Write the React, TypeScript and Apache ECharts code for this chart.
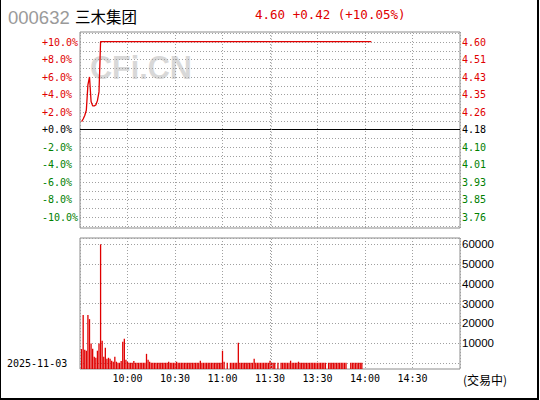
import React, { useEffect, useRef } from "react";
import * as echarts from "echarts";

const stockCode = "000632";
const stockName = "三木集团";
const quoteText = "4.60 +0.42 (+10.05%)";
const tradeDate = "2025-11-03";
const statusText = "(交易中)";
const watermarkText = "CFi.CN";

// percent ticks and their labels (left) / price labels (right)
const pctTicks = [10, 8, 6, 4, 2, 0, -2, -4, -6, -8, -10];
const pctLabels = ["+10.0%", "+8.0%", "+6.0%", "+4.0%", "+2.0%", "+0.0%", "-2.0%", "-4.0%", "-6.0%", "-8.0%", "-10.0%"];
const priceLabels = ["4.60", "4.51", "4.43", "4.35", "4.26", "4.18", "4.10", "4.01", "3.93", "3.85", "3.76"];

// minutes since 9:30 (11:30 == 120, then afternoon session)
const timeTicks = [30, 60, 90, 120, 150, 180, 210];
const timeLabels = ["10:00", "10:30", "11:00", "11:30", "13:30", "14:00", "14:30"];

const volumeTicks = [10000, 20000, 30000, 40000, 50000, 60000];
const volumeLabels = ["10000", "20000", "30000", "40000", "50000", "60000"];

// price line: minute index and percent change
const lineMinutes = [1, 2, 3, 4, 5, 6, 7, 8, 9, 10, 11, 12, 13, 184];
const linePct = [0.9, 1.2, 1.6, 2.2, 5.1, 6.0, 3.2, 2.7, 2.7, 2.8, 3.3, 4.3, 10.05, 10.05];

// volume per minute, minutes 1..178
const volumes = [
  9600, 26000, 9300, 8800, 26000, 24000, 12300, 9700, 5900, 5400,
  8800, 12300, 60000, 13600, 5900, 10200, 4900, 5400, 4900, 4000,
  3500, 5900, 3500, 3000, 3000, 3900, 13100, 14500, 4400, 3500,
  3000, 3000, 3000, 3900, 3000, 3000, 3000, 3000, 3000, 3000,
  3000, 7300, 4500, 3500, 3000, 3000, 3000, 3000, 3000, 3000,
  3000, 3000, 3000, 3000, 3000, 3500, 3000, 3000, 3000, 3000,
  3500, 3000, 3000, 3000, 3000, 3000, 3000, 3000, 3000, 3000,
  3000, 3000, 3000, 3000, 3000, 4000, 3000, 3000, 3000, 3000,
  3000, 3000, 3000, 3000, 3000, 3000, 3000, 3000, 3000, 8800,
  3500, 0, 3000, 0, 3000, 3000, 3000, 3000, 3000, 12600,
  3000, 3000, 3000, 3000, 3000, 3000, 3000, 3000, 3000, 4900,
  3000, 3000, 3000, 3000, 3000, 3000, 3000, 3000, 3000, 4000,
  3000, 3000, 3000, 0, 3000, 0, 3000, 3000, 3000, 3000,
  3000, 3000, 4000, 3000, 3000, 3000, 3000, 3500, 3000, 3000,
  3000, 3000, 3000, 3000, 3000, 3000, 3000, 3000, 3000, 3000,
  3000, 3000, 3000, 3000, 3000, 0, 3000, 3000, 3000, 3000,
  3000, 3000, 3000, 3000, 3000, 3000, 3000, 3000, 0, 0,
  3000, 3000, 3000, 3000, 3000, 3000, 3000, 3000,
];

const afternoonStart = 121;

const RED = "#e00000";
const GREEN = "#008000";
const GRIDC = "#a0a0a0";
const BORDER = "#8c8c8c";
const MONO = "DejaVu Sans Mono";

const dotted = { color: GRIDC, width: 1, type: [1, 2] as number[] };

function pctColor(v: any) {
  const n = Number(v);
  if (n > 0) return RED;
  if (n < 0) return GREEN;
  return "#000";
}

function buildOption(): any {
  const lineData = lineMinutes.map((m, i) => [m, linePct[i]]);
  const barData = volumes.map((v, i) => [i + 1, v]);
  return {
    animation: false,
    grid: [
      { left: 80, top: 32, width: 380, height: 196, show: true, borderColor: BORDER, borderWidth: 1 },
      { left: 80, top: 33.25, width: 380, height: 192.5, show: false },
      { left: 80, top: 238, width: 380, height: 131, show: true, borderColor: BORDER, borderWidth: 1 },
      { left: 80, top: 238, width: 380, height: 125.2, show: false },
    ],
    xAxis: [
      {
        gridIndex: 0, type: "value", min: 0, max: 240, interval: 30,
        axisLine: { show: false }, axisTick: { show: false }, axisLabel: { show: false },
        splitLine: { show: true, lineStyle: dotted },
      },
      { gridIndex: 1, type: "value", min: 0, max: 240, show: false },
      {
        gridIndex: 2, type: "value", min: 0, max: 240, interval: 30,
        axisLine: { show: false }, axisTick: { show: false },
        axisLabel: {
          show: true, margin: 4, color: "#000", fontFamily: MONO, fontSize: 10,
          showMinLabel: false, showMaxLabel: false,
          formatter: (v: number) => {
            const i = timeTicks.indexOf(v);
            return i >= 0 ? timeLabels[i] : "";
          },
        },
        splitLine: { show: true, lineStyle: dotted },
      },
      { gridIndex: 3, type: "value", min: 0, max: 240, show: false },
    ],
    yAxis: [
      { gridIndex: 0, type: "value", min: 0, max: 1, show: false },
      {
        gridIndex: 1, type: "value", min: -11, max: 11, interval: 1, position: "left",
        axisLine: { show: false }, axisTick: { show: false },
        splitLine: { show: true, lineStyle: dotted },
        axisLabel: {
          show: true, align: "left", margin: 38, fontFamily: MONO, fontSize: 10,
          color: pctColor,
          formatter: (v: number) => {
            const i = pctTicks.indexOf(v);
            return i >= 0 ? pctLabels[i] : "";
          },
        },
      },
      {
        gridIndex: 1, type: "value", min: -11, max: 11, interval: 1, position: "right",
        axisLine: { show: false }, axisTick: { show: false },
        splitLine: { show: false },
        axisLabel: {
          show: true, align: "left", margin: 2, fontFamily: MONO, fontSize: 10,
          color: pctColor,
          formatter: (v: number) => {
            const i = pctTicks.indexOf(v);
            return i >= 0 ? priceLabels[i] : "";
          },
        },
      },
      { gridIndex: 2, type: "value", min: 0, max: 63030, show: false },
      {
        gridIndex: 3, type: "value", min: 0, max: 63000, interval: 10000, position: "right",
        axisLine: { show: false }, axisTick: { show: false },
        splitLine: { show: true, lineStyle: dotted },
        axisLabel: {
          show: true, align: "left", margin: 2, color: "#000",
          fontFamily: "Liberation Sans", fontSize: 11.5,
          showMinLabel: false, showMaxLabel: false,
          formatter: (v: number) => {
            const i = volumeTicks.indexOf(v);
            return i >= 0 ? volumeLabels[i] : "";
          },
        },
      },
    ],
    graphic: [
      {
        type: "text", x: 90, y: 67.5, z: -1, scaleX: 0.9,
        style: {
          text: watermarkText, fill: "#d8d8d8", fontSize: 34, fontWeight: "bold",
          fontFamily: "Liberation Sans", verticalAlign: "middle", align: "left",
        },
      },
      {
        type: "text", x: 8, y: 17,
        style: { text: stockCode, fill: "#9a9a9a", fontSize: 18.5, fontFamily: "Liberation Sans", verticalAlign: "middle" },
      },
      {
        type: "text", x: 75, y: 15.5,
        style: { text: stockName, fill: "#000", fontSize: 15.5, fontFamily: "Noto Sans CJK SC", verticalAlign: "middle" },
      },
      {
        type: "text", x: 255, y: 14.5,
        style: { text: quoteText, fill: RED, fontSize: 12.5, fontFamily: MONO, verticalAlign: "middle" },
      },
      {
        type: "text", x: 7, y: 363,
        style: { text: tradeDate, fill: "#000", fontSize: 10, fontFamily: MONO, verticalAlign: "middle" },
      },
      {
        type: "text", x: 463, y: 379,
        style: { text: statusText, fill: "#000", fontSize: 12, fontFamily: "Noto Sans CJK SC", verticalAlign: "middle" },
      },
      { type: "rect", shape: { x: 0, y: 0, width: 1, height: 400 }, style: { fill: "#000" } },
      { type: "rect", shape: { x: 537, y: 0, width: 2, height: 400 }, style: { fill: "#000" } },
      { type: "rect", shape: { x: 0, y: 398, width: 539, height: 2 }, style: { fill: "#000" } },
    ],
    series: [
      {
        type: "line", xAxisIndex: 1, yAxisIndex: 1, data: lineData,
        showSymbol: false, symbol: "none",
        lineStyle: { color: RED, width: 1.3 },
        markLine: {
          silent: true, symbol: ["none", "none"], label: { show: false },
          data: [
            { yAxis: 0, lineStyle: { color: "#000", width: 1.2, type: "solid" } },
            { xAxis: afternoonStart, lineStyle: dotted },
          ],
        },
      },
      {
        type: "bar", xAxisIndex: 2, yAxisIndex: 3, data: barData,
        barWidth: 1.3,
        itemStyle: { color: RED },
        markLine: {
          silent: true, symbol: ["none", "none"], label: { show: false },
          data: [{ xAxis: afternoonStart, lineStyle: dotted }],
        },
      },
    ],
  };
}

export default function App() {
  const ref = useRef<HTMLDivElement>(null);
  useEffect(() => {
    if (!ref.current) return;
    const chart = echarts.init(ref.current, null, { renderer: "svg", width: 540, height: 400 });
    chart.setOption(buildOption());
    return () => chart.dispose();
  }, []);
  return (
    <div
      ref={ref}
      style={{ position: "fixed", left: 0, top: 0, width: 540, height: 400, background: "#fff" }}
    />
  );
}
